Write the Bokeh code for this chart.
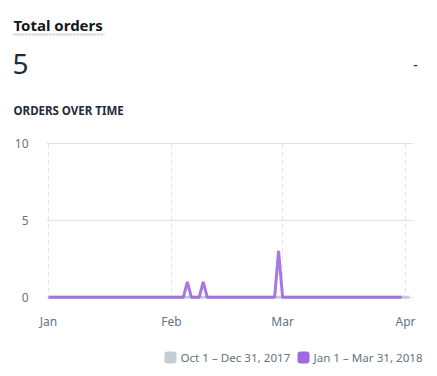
from bokeh.plotting import figure
from bokeh.layouts import column, row
from bokeh.models import Label, FixedTicker, Range1d, BoxAnnotation
from bokeh.embed import file_html
from bokeh.resources import INLINE

# ---- data ----
title_text = "Total orders"
total_value = "5"
change_text = "-"
subtitle = "ORDERS OVER TIME"
legend_labels = ["Oct 1 \u2013 Dec 31, 2017", "Jan 1 \u2013 Mar 31, 2018"]
month_ticks = [0, 31, 59, 90]
month_labels = ["Jan", "Feb", "Mar", "Apr"]
y_ticks = [0, 5, 10]

# orders per day, Jan 1 - Mar 31, 2018 (90 days)
current_orders = [
    0, 0, 0, 0, 0, 0, 0, 0, 0, 0, 0, 0, 0, 0, 0, 0, 0, 0, 0, 0, 0, 0, 0, 0, 0, 0, 0, 0, 0, 0, 0,  # Jan
    0, 0, 0, 0, 1, 0, 0, 0, 1, 0, 0, 0, 0, 0, 0, 0, 0, 0, 0, 0, 0, 0, 0, 0, 0, 0, 0, 3,           # Feb
    0, 0, 0, 0, 0, 0, 0, 0, 0, 0, 0, 0, 0, 0, 0, 0, 0, 0, 0, 0, 0, 0, 0, 0, 0, 0, 0, 0, 0, 0, 0,  # Mar
]
# orders per day, Oct 1 - Dec 31, 2017 (92 days)
previous_orders = [
    0, 0, 0, 0, 0, 0, 0, 0, 0, 0, 0, 0, 0, 0, 0, 0, 0, 0, 0, 0, 0, 0, 0, 0, 0, 0, 0, 0, 0, 0, 0,
    0, 0, 0, 0, 0, 0, 0, 0, 0, 0, 0, 0, 0, 0, 0, 0, 0, 0, 0, 0, 0, 0, 0, 0, 0, 0, 0, 0, 0, 0,
    0, 0, 0, 0, 0, 0, 0, 0, 0, 0, 0, 0, 0, 0, 0, 0, 0, 0, 0, 0, 0, 0, 0, 0, 0, 0, 0, 0, 0, 0, 0,
]
current_days = list(range(len(current_orders)))
previous_days = list(range(len(previous_orders)))

# ---- styles ----
FONT = "Noto Sans"
PURPLE = "#9c6ade"
GREY = "#c4cdd5"
GRID = "#dfe3e8"
INK = "#212b36"
MUTED = "#637381"
W = 437
HEAD_H, LEG_H = 128, 38
B_LEFT, B_RIGHT, B_TOP, B_BOTTOM = 46, 24, 13, 39
FRAME_W, FRAME_H = W - B_LEFT - B_RIGHT, 158


def panel(height):
    f = figure(width=W, height=height, output_backend="svg", toolbar_location=None,
               x_range=Range1d(0, W), y_range=Range1d(height, 0),
               x_axis_type=None, y_axis_type=None, min_border=0)
    f.outline_line_color = None
    f.grid.visible = False
    return f


def add_label(f, x, y, text, size, color, style="normal", align="left"):
    f.add_layout(Label(x=x, y=y, text=text, text_font=FONT, text_font_size=size,
                       text_color=color, text_font_style=style, text_align=align,
                       text_baseline="middle"))


# ---- header ----
head = panel(HEAD_H)
add_label(head, 13, 24, title_text, "15px", "#111820", "bold")
head.line([13, 104], [34, 34], line_color=GREY, line_width=2, line_dash="2 1")
add_label(head, 12, 63, total_value, "28px", INK)
add_label(head, 415, 64, change_text, "14px", INK, align="center")
add_label(head, 13, 110, subtitle, "11.5px", INK, "bold")

# ---- chart ----
p = figure(frame_width=FRAME_W, frame_height=FRAME_H, output_backend="svg",
           toolbar_location=None,
           x_range=Range1d(-0.5, 92.0), y_range=Range1d(-0.15, 10.1),
           min_border_left=B_LEFT, min_border_right=B_RIGHT, min_border_top=B_TOP,
           min_border_bottom=B_BOTTOM)
p.outline_line_color = None

p.line(previous_days, previous_orders, line_color=GREY, line_width=3)
p.line(current_days, current_orders, line_color=PURPLE, line_width=3, line_alpha=0.9)

p.xaxis.ticker = FixedTicker(ticks=month_ticks)
p.xaxis.major_label_overrides = {t: l for t, l in zip(month_ticks, month_labels)}
p.yaxis.ticker = FixedTicker(ticks=y_ticks)
for ax in (p.xaxis[0], p.yaxis[0]):
    ax.axis_line_color = None
    ax.major_tick_line_color = None
    ax.minor_tick_line_color = None
    ax.major_label_text_color = MUTED
    ax.major_label_text_font = FONT
    ax.major_label_text_font_size = "12px"
p.xaxis.major_label_standoff = 7
p.yaxis.major_label_standoff = 12
p.xgrid.grid_line_color = GRID
p.xgrid.grid_line_dash = "4 4"
p.ygrid.grid_line_color = GRID

# ---- legend ----
leg = panel(LEG_H)
for (l, c), text, tx in zip(((164, GREY), (297, PURPLE)), legend_labels, (180, 313)):
    leg.add_layout(BoxAnnotation(left=l, right=l + 12, top=13, bottom=25,
                                 fill_color=c, fill_alpha=1, line_color=None, border_radius=3))
    add_label(leg, tx, 19, text, "11.6px", MUTED)

layout = column(row(head, spacing=0), row(p, spacing=0), row(leg, spacing=0), spacing=0)
open("out.html", "w").write(file_html(layout, INLINE))
